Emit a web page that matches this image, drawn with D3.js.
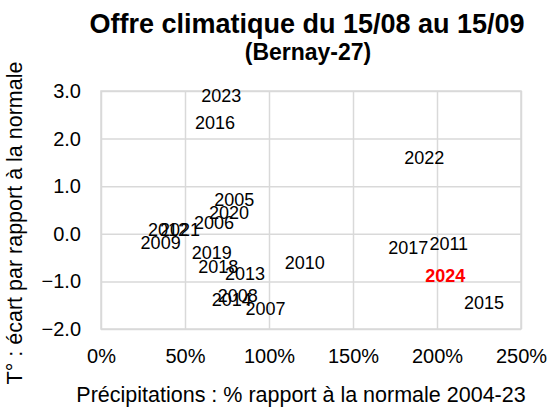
<!DOCTYPE html>
<html>
<head>
<meta charset="utf-8">
<script src="https://cdn.jsdelivr.net/npm/d3@7"></script>
<style>
  body { margin: 0; background: #fff; }
  svg { display: block; font-family: Arial, "Liberation Sans", sans-serif; }
</style>
</head>
<body>
<div id="chart"></div>
<script>
// years shown as labels, precipitation (% of normal) and temperature gap (°C)
var years = ["2023", "2016", "2005", "2020", "2006", "2012", "2021", "2009", "2019", "2018",
             "2013", "2010", "2008", "2014", "2007", "2022", "2017", "2011", "2024", "2015"];
var precip = [71.6, 67.9, 79.3, 76.2, 67.3, 39.9, 47.0, 35.5, 65.9, 69.8,
              85.7, 121.3, 81.4, 77.8, 97.9, 192.4, 182.9, 207.0, 204.9, 228.0];
var tempGap = [2.91, 2.34, 0.71, 0.44, 0.23, 0.08, 0.08, -0.18, -0.40, -0.70,
               -0.83, -0.61, -1.30, -1.39, -1.57, 1.60, -0.30, -0.21, -0.88, -1.44];
var highlight = "2024";

var xTicks = [0, 50, 100, 150, 200, 250];
var yTicks = [3, 2, 1, 0, -1, -2];

var W = 551, H = 408;
var margin = {top: 91, right: 30, bottom: 79, left: 101};
var w = W - margin.left - margin.right,
    h = H - margin.top - margin.bottom;

var svg = d3.select("#chart").append("svg")
    .attr("width", W)
    .attr("height", H);

var g = svg.append("g")
    .attr("transform", "translate(" + margin.left + "," + margin.top + ")");

var x = d3.scaleLinear().domain([0, 250]).range([0, w]);
var y = d3.scaleLinear().domain([-2, 3]).range([h, 0]);

// gridlines + tick labels
var xAxis = g.append("g")
    .attr("transform", "translate(0," + h + ")")
    .call(d3.axisBottom(x).tickValues(xTicks).tickSizeInner(-h).tickSizeOuter(0)
        .tickPadding(20).tickFormat(function(d) { return d + "%"; }));

var yAxis = g.append("g")
    .call(d3.axisLeft(y).tickValues(yTicks).tickSizeInner(-w).tickSizeOuter(0)
        .tickPadding(20).tickFormat(d3.format(".1f")));

[xAxis, yAxis].forEach(function(a) {
    a.select(".domain").remove();
    a.selectAll("line").attr("stroke", "#d9d9d9").attr("stroke-width", 1.5);
    a.selectAll("text").attr("fill", "#000").style("font-size", "20px")
        .style("font-family", "Arial, 'Liberation Sans', sans-serif");
});

g.append("rect")
    .attr("width", w)
    .attr("height", h)
    .attr("fill", "none")
    .attr("stroke", "#d9d9d9")
    .attr("stroke-width", 1.5);

// data labels (no markers)
var pts = years.map(function(yr, i) {
    return {year: yr, p: precip[i], t: tempGap[i]};
});

g.selectAll(".lbl")
    .data(pts)
  .enter().append("text")
    .attr("class", "lbl")
    .attr("x", function(d) { return x(d.p); })
    .attr("y", function(d) { return y(d.t); })
    .attr("dy", "0.35em")
    .attr("text-anchor", "middle")
    .style("font-size", "18px")
    .style("font-weight", function(d) { return d.year === highlight ? "bold" : "normal"; })
    .attr("fill", function(d) { return d.year === highlight ? "#ff0000" : "#000"; })
    .text(function(d) { return d.year; });

// titles
svg.append("text")
    .attr("x", 307).attr("y", 33)
    .attr("text-anchor", "middle")
    .style("font-size", "27px").style("font-weight", "bold")
    .text("Offre climatique du 15/08 au 15/09");

svg.append("text")
    .attr("x", 308).attr("y", 60)
    .attr("text-anchor", "middle")
    .style("font-size", "23px").style("font-weight", "bold")
    .text("(Bernay-27)");

svg.append("text")
    .attr("x", 301).attr("y", 402)
    .attr("text-anchor", "middle")
    .style("font-size", "21.5px")
    .text("Précipitations : % rapport à la normale 2004-23");

svg.append("text")
    .attr("transform", "translate(22,223) rotate(-90)")
    .attr("text-anchor", "middle")
    .style("font-size", "21.5px")
    .text("T° : écart par rapport à la normale");
</script>
</body>
</html>
